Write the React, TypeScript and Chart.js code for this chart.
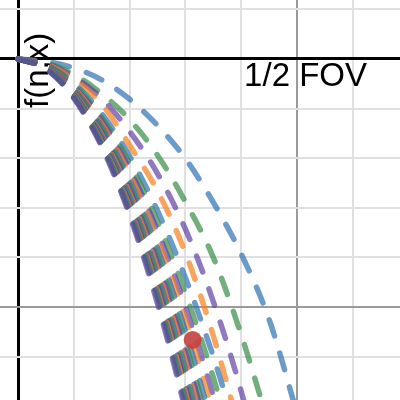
import React, { useEffect, useRef } from "react";
import { Chart, registerables } from "chart.js";

Chart.register(...registerables);

// half field of view sample positions (x axis)
const HALF_FOV = [0, 5, 10, 15, 20, 25, 30, 35, 40, 45, 50];

// f(n, x) for each n at the HALF_FOV samples
const f1 = [0, -0.05, -0.18, -0.42, -0.81, -1.34, -2.01, -2.89, -3.93, -5.25, -7.14];
const f2 = [0, -0.08, -0.31, -0.7, -1.22, -1.94, -2.88, -4.0, -5.56, -7.4];
const f3 = [0, -0.09, -0.36, -0.8, -1.46, -2.31, -3.43, -4.89, -6.7, -8.9];
const f4 = [0, -0.1, -0.41, -0.91, -1.74, -2.66, -3.91, -5.58, -7.6];
const f5 = [0, -0.12, -0.49, -1.1, -1.96, -3.06, -4.41, -6.0, -7.84];
const f6 = [0, -0.13, -0.52, -1.18, -2.1, -3.28, -4.72, -6.42, -8.38];
const f7 = [0, -0.14, -0.56, -1.25, -2.22, -3.47, -5.0, -6.8, -8.88];
const f8 = [0, -0.15, -0.58, -1.31, -2.33, -3.64, -5.25, -7.14];
const f9 = [0, -0.15, -0.61, -1.37, -2.44, -3.81, -5.48, -7.46];
const f10 = [0, -0.16, -0.63, -1.43, -2.54, -3.96, -5.71, -7.77];
const f11 = [0, -0.16, -0.66, -1.48, -2.62, -4.1, -5.9, -8.04];
const f12 = [0, -0.17, -0.68, -1.53, -2.71, -4.24, -6.1, -8.31];
const f13 = [0, -0.17, -0.7, -1.57, -2.78, -4.35, -6.26, -8.53];
const f14 = [0, -0.18, -0.72, -1.61, -2.86, -4.47, -6.44, -8.76];
const f15 = [0, -0.18, -0.73, -1.64, -2.92, -4.57, -6.58, -8.95];
const f16 = [0, -0.19, -0.75, -1.68, -2.99, -4.67, -6.72, -9.15];
const f17 = [0, -0.19, -0.76, -1.71, -3.04, -4.76, -6.85, -9.32];
const f18 = [0, -0.19, -0.78, -1.74, -3.1, -4.84, -6.98, -9.49];
const f19 = [0, -0.2, -0.79, -1.77, -3.15, -4.93, -7.09, -9.65];

const CURVES = [f1, f2, f3, f4, f5, f6, f7, f8, f9, f10, f11, f12, f13, f14, f15, f16, f17, f18, f19];

const PALETTE = [
  "rgba(45,112,179,0.7)",
  "rgba(56,140,70,0.7)",
  "rgba(96,66,166,0.7)",
  "rgba(250,126,25,0.7)",
];

const MARKER_X = [31.3];
const MARKER_Y = [-5.665];

// grid line positions
const X_GRID = [0, 10, 20, 30, 40, 50, 60];
const Y_GRID = [1, 0, -1, -2, -3, -4, -5, -6];

const X_LABEL = "1/2 FOV";
const Y_LABEL = "f(n,x)";

const X_MIN = -3.226;
const X_MAX = 68.459;
const Y_MIN = -6.875;
const Y_MAX = 1.1895;

const labelPlugin = {
  id: "axisLabels",
  beforeDatasetsDraw(chart: any) {
    const ctx = chart.ctx;
    ctx.save();
    ctx.fillStyle = "#000";
    ctx.font = '33px "Liberation Sans", Arial, sans-serif';
    ctx.textBaseline = "alphabetic";
    ctx.textAlign = "right";
    ctx.fillText(X_LABEL, 367, 86);
    ctx.translate(48, 108);
    ctx.rotate(-Math.PI / 2);
    ctx.textAlign = "left";
    ctx.fillText(Y_LABEL, 0, 0);
    ctx.restore();
  },
};

export default function App() {
  const ref = useRef<HTMLCanvasElement | null>(null);

  useEffect(() => {
    if (!ref.current) return;
    const n = CURVES.length;
    const datasets: any[] = CURVES.map((ys, i) => ({
      type: "scatter",
      data: ys.map((y, k) => ({ x: HALF_FOV[k], y })),
      showLine: true,
      borderColor: PALETTE[i % PALETTE.length],
      borderWidth: 5.5,
      borderDash: [17, 18],
      borderCapStyle: "round",
      borderJoinStyle: "round",
      pointRadius: 0,
      pointHoverRadius: 0,
      cubicInterpolationMode: "monotone",
      fill: false,
      order: n - i,
    }));
    datasets.unshift({
      type: "scatter",
      data: MARKER_X.map((x, k) => ({ x, y: MARKER_Y[k] })),
      showLine: false,
      pointRadius: 9,
      pointHoverRadius: 9,
      pointBackgroundColor: "rgba(199,68,64,0.92)",
      pointBorderWidth: 0,
      order: -1,
    });

    const gridColor = (major: number) => (c: any) => {
      const v = c.tick ? c.tick.value : NaN;
      if (Math.abs(v) < 1e-9) return "#000000";
      if (Math.abs(Math.abs(v) - major) < 1e-9) return "#9a9a9a";
      return "#e0e0e0";
    };
    const gridWidth = (c: any) => {
      const v = c.tick ? c.tick.value : NaN;
      if (Math.abs(v) < 1e-9) return 3;
      return 2;
    };

    const chart = new Chart(ref.current, {
      type: "scatter",
      data: { datasets },
      plugins: [labelPlugin],
      options: {
        animation: false,
        responsive: true,
        maintainAspectRatio: false,
        events: [],
        layout: { padding: 0, autoPadding: false },
        plugins: { legend: { display: false }, tooltip: { enabled: false } },
        scales: {
          x: {
            type: "linear",
            min: X_MIN,
            max: X_MAX,
            ticks: { display: false },
            afterBuildTicks: (s: any) => {
              s.ticks = X_GRID.map((value) => ({ value }));
            },
            border: { display: false },
            grid: { drawTicks: false, color: gridColor(50), lineWidth: gridWidth },
          },
          y: {
            type: "linear",
            min: Y_MIN,
            max: Y_MAX,
            ticks: { display: false },
            afterBuildTicks: (s: any) => {
              s.ticks = Y_GRID.map((value) => ({ value }));
            },
            border: { display: false },
            grid: { drawTicks: false, color: gridColor(5), lineWidth: gridWidth },
          },
        },
      },
    } as any);
    return () => chart.destroy();
  }, []);

  return (
    <div style={{ position: "fixed", left: 0, top: 0, width: 400, height: 400, background: "#fff" }}>
      <canvas ref={ref} />
    </div>
  );
}
